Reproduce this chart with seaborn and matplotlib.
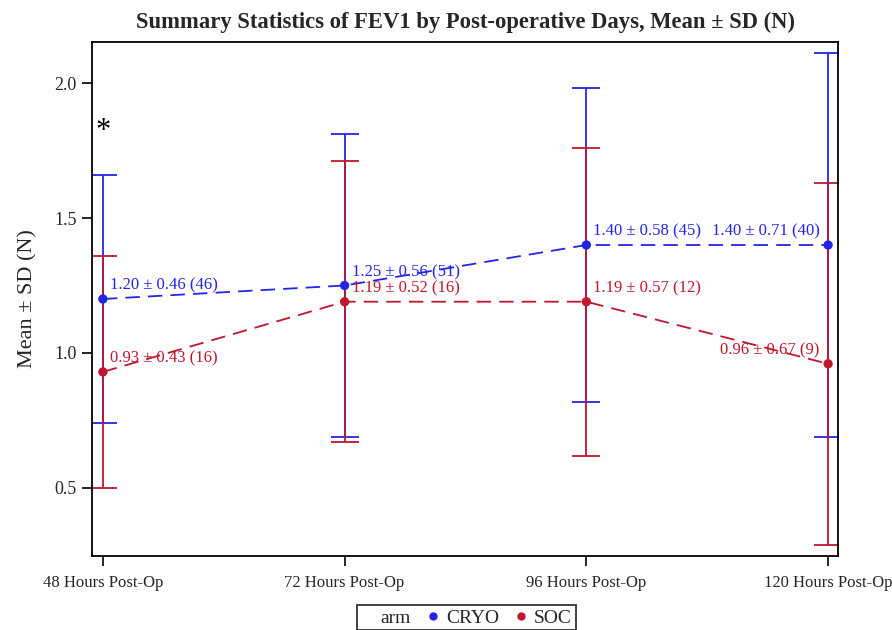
import numpy as np
import pandas as pd
import seaborn as sns
import matplotlib.pyplot as plt
from matplotlib.lines import Line2D

days = ["48 Hours Post-Op", "72 Hours Post-Op", "96 Hours Post-Op", "120 Hours Post-Op"]
arms = ["CRYO", "SOC"]
cryo_mean = [1.20, 1.25, 1.40, 1.40]
cryo_sd = [0.46, 0.56, 0.58, 0.71]
cryo_n = [46, 51, 45, 40]
soc_mean = [0.93, 1.19, 1.19, 0.96]
soc_sd = [0.43, 0.52, 0.57, 0.67]
soc_n = [16, 16, 12, 9]

colors = {"CRYO": "#2424E8", "SOC": "#C0162E"}

rows = []
for arm, m, s, n in [("CRYO", cryo_mean, cryo_sd, cryo_n), ("SOC", soc_mean, soc_sd, soc_n)]:
    for i, d in enumerate(days):
        rows.append({"arm": arm, "pos": i, "day": d, "mean": m[i], "sd": s[i], "n": n[i]})
df = pd.DataFrame(rows)

sns.set_style("white")
plt.rcParams["font.family"] = ["Liberation Serif", "DejaVu Serif"]

fig = plt.figure(figsize=(8.92, 6.3), dpi=100)
ax = fig.add_axes([92 / 892, 74 / 630, 746 / 892, 514 / 630])

# error bars first
for arm in arms:
    sub = df[df["arm"] == arm]
    ax.errorbar(sub["pos"], sub["mean"], yerr=sub["sd"], fmt="none",
                ecolor=colors[arm], elinewidth=1.3, capsize=10, capthick=1.3, zorder=2)

sns.lineplot(data=df, x="pos", y="mean", hue="arm", palette=colors, ax=ax,
             linestyle=(0, (8, 4.5)), linewidth=1.3, legend=False, zorder=3)
sns.scatterplot(data=df, x="pos", y="mean", hue="arm", palette=colors, ax=ax,
                s=45, edgecolor="none", zorder=4, legend=False)

# labels
for _, r in df.iterrows():
    txt = f"{r['mean']:.2f} \u00b1 {r['sd']:.2f} ({r['n']})"
    if r["pos"] == 3:
        ax.annotate(txt, (r["pos"], r["mean"]), xytext=(-6, 4), textcoords="offset points",
                    ha="right", va="bottom", color=colors[r["arm"]], fontsize=12)
    else:
        ax.annotate(txt, (r["pos"], r["mean"]), xytext=(5, 4), textcoords="offset points",
                    ha="left", va="bottom", color=colors[r["arm"]], fontsize=12)

ax.text(0, 1.82, "*", ha="center", va="center", fontsize=22, color="black")

ax.set_xlim(-0.045, 3.041)
ax.set_ylim(0.248, 2.152)
ax.set_xticks(range(len(days)))
ax.set_xticklabels(days, fontsize=12)
ax.set_yticks([0.5, 1.0, 1.5, 2.0])
ax.set_yticklabels(["0.5", "1.0", "1.5", "2.0"], fontsize=13)
ax.tick_params(axis="both", direction="out", length=7, width=1.2, color="black",
               bottom=True, left=True, pad=4)
ax.tick_params(axis="x", pad=7)
for sp in ax.spines.values():
    sp.set_color("black")
    sp.set_linewidth(1.3)
ax.set_xlabel("")
ax.set_ylabel("Mean \u00b1 SD (N)", fontsize=16, labelpad=12)
ax.set_title("Summary Statistics of FEV1 by Post-operative Days, Mean \u00b1 SD (N)",
             fontsize=16.3, fontweight="bold", pad=10)

handles = [Line2D([], [], linestyle="none", marker=None)]
for arm in arms:
    handles.append(Line2D([], [], linestyle="none", marker="o", markersize=6,
                          markerfacecolor=colors[arm], markeredgecolor="none"))
leg = fig.legend(handles, ["arm"] + arms, loc="lower center", bbox_to_anchor=(0.523, -0.01),
                 ncol=3, frameon=True, fontsize=14, handletextpad=0.3, columnspacing=0.8,
                 borderpad=0.2, handlelength=0.7, borderaxespad=0.3,
                 fancybox=False, edgecolor="black")
leg.get_frame().set_linewidth(1.3)

fig.savefig("out.png", dpi=100)
